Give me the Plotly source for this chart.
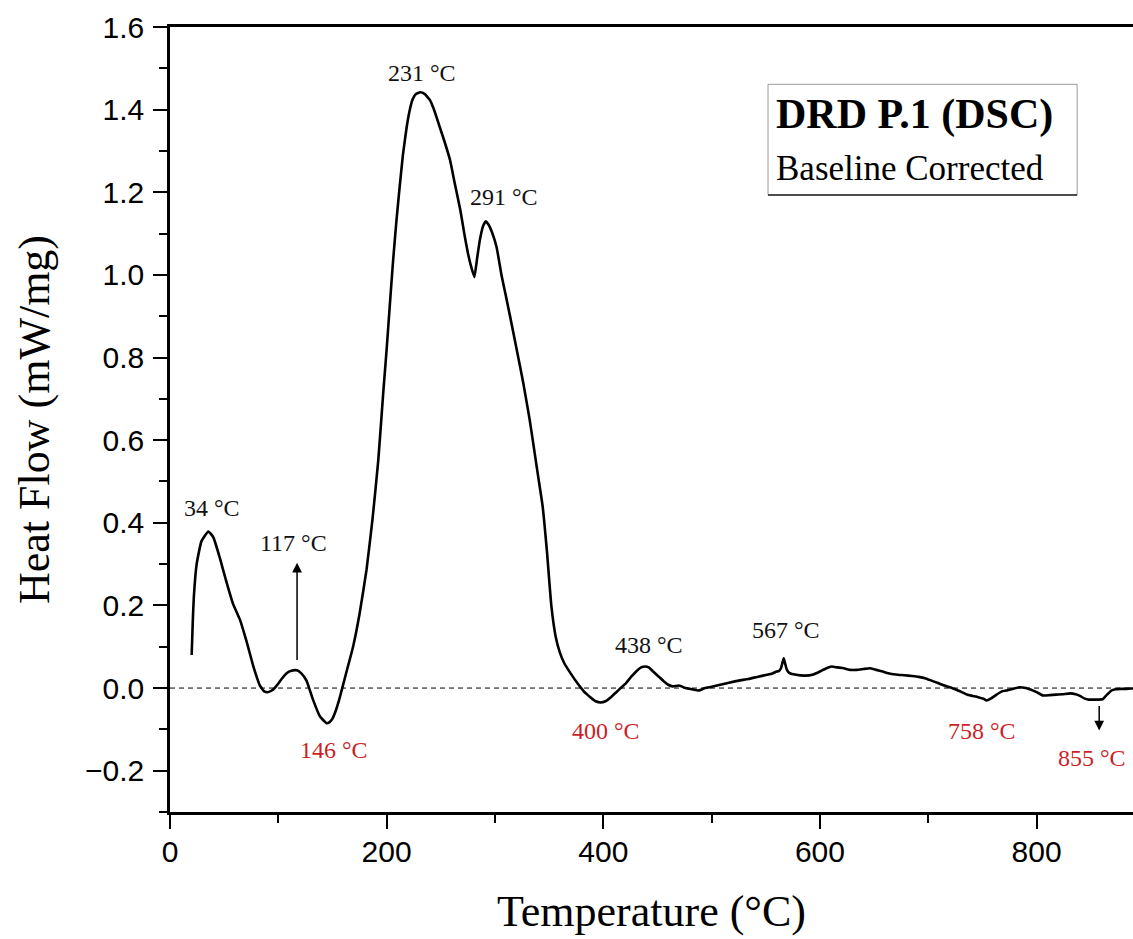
import plotly.graph_objects as go

# ---- data ----
temperature = [20, 21, 22, 24.6, 29, 35.4, 40, 46, 52.3, 58, 64.6, 71, 77, 83, 87, 90, 94, 98.5,
               103, 107.7, 112, 117, 121, 126, 132, 138.5, 144.6, 147, 150, 153, 156, 159, 163, 169,
               175, 181.4, 187, 192.3, 197, 200, 203, 206, 209, 212, 215, 218.5, 221, 224, 227,
               231, 235, 240, 244, 249, 254, 258.5, 263, 268, 272, 275, 278, 281, 283.5, 286,
               289, 291.5, 294, 297, 301.5, 306, 310, 314, 320, 326, 332, 336, 340, 344, 348,
               352, 356, 360, 364, 370, 376, 382, 388, 393, 397.6, 402, 407, 412, 416, 421, 426,
               431, 435, 438.6, 442, 446, 451, 456, 460, 464, 470, 476, 482, 488, 494, 500, 508,
               516, 525, 534, 542, 551, 556, 560, 562, 564, 565.5, 566.6, 568, 569.5, 572, 578,
               586, 594, 600, 606, 611, 616, 622, 628, 634, 640, 646, 652, 658, 663, 670, 678,
               685, 691, 697, 703, 709, 715, 720, 726, 731, 736, 741, 746, 751, 754, 758, 763,
               768, 772, 778, 784, 790, 795, 800, 806, 812, 818, 824, 831, 836, 840, 844, 848,
               853, 857, 861, 865, 869, 873, 877, 882, 887, 889]
heat_flow = [0.08, 0.16, 0.22, 0.30, 0.355, 0.379, 0.365, 0.315, 0.255, 0.205, 0.165, 0.11, 0.052,
             0.006, -0.008, -0.01, -0.006, 0.006, 0.022, 0.036, 0.042, 0.043, 0.036, 0.018,
             -0.028, -0.069, -0.085, -0.083, -0.074, -0.055, -0.03, 0.0, 0.04, 0.10, 0.18, 0.286,
             0.41, 0.552, 0.72, 0.82, 0.93, 1.036, 1.13, 1.213, 1.29, 1.358, 1.395, 1.425, 1.438,
             1.442, 1.438, 1.423, 1.398, 1.358, 1.318, 1.278, 1.22, 1.157, 1.095, 1.053, 1.02,
             0.995, 1.04, 1.084, 1.118, 1.13, 1.122, 1.105, 1.067, 1.0, 0.95, 0.899, 0.82,
             0.74, 0.65, 0.58, 0.51, 0.44, 0.33, 0.2, 0.125, 0.085, 0.06, 0.035, 0.012,
             -0.008, -0.022, -0.032, -0.035, -0.032, -0.022, -0.01, 0.0, 0.012, 0.028, 0.042,
             0.05, 0.052, 0.05, 0.04, 0.028, 0.016, 0.008, 0.004, 0.006, 0.0, -0.003, -0.006,
             0.0, 0.003, 0.008, 0.013, 0.018, 0.022, 0.027, 0.032, 0.035, 0.04, 0.041, 0.048,
             0.062, 0.072, 0.058, 0.044, 0.036, 0.032, 0.03, 0.033, 0.04, 0.048, 0.052, 0.05,
             0.048, 0.044, 0.044, 0.046, 0.048, 0.044, 0.04, 0.036, 0.033, 0.031, 0.029, 0.027,
             0.024, 0.018, 0.012, 0.006, 0.002, -0.004, -0.01, -0.016, -0.019, -0.022, -0.026,
             -0.03, -0.025, -0.016, -0.008, -0.006, -0.002, 0.002, 0.0, -0.004, -0.01, -0.018,
             -0.017, -0.016, -0.015, -0.013, -0.015, -0.019, -0.025, -0.028, -0.028, -0.028,
             -0.027, -0.016, -0.006, -0.003, -0.002, -0.002, -0.001, -0.001]

# peak labels
peak_labels = ["34 °C", "117 °C", "231 °C", "291 °C", "438 °C", "567 °C"]
peak_x = [38.8, 113.6, 232.7, 308.4, 442.3, 568.8]
peak_y = [0.436, 0.351, 1.488, 1.189, 0.105, 0.141]
trough_labels = ["146 °C", "400 °C", "758 °C", "855 °C"]
trough_x = [151.4, 402.6, 749.8, 851.3]
trough_y = [-0.149, -0.105, -0.103, -0.169]

# arrows (head, tail)
arrow_x = [117.3, 857.8]
arrow_head_y = [0.303, -0.1025]
arrow_tail_y = [0.064, -0.04]

x_range = [0, 889]
y_range = [-0.3, 1.6]

SERIF = "Liberation Serif, Times New Roman, serif"
SANS = "Liberation Sans, Arial, sans-serif"
RED = "#cc1f26"

fig = go.Figure()
fig.add_trace(go.Scatter(x=temperature, y=heat_flow, mode="lines",
                         line=dict(color="black", width=2.6, shape="spline", smoothing=0.4),
                         showlegend=False, hoverinfo="skip"))

# dashed zero line
fig.add_shape(type="line", xref="paper", yref="y", x0=0, x1=1, y0=0, y1=0,
              line=dict(color="black", width=1, dash="5px,4px"), layer="below")

for t, x, y in zip(peak_labels, peak_x, peak_y):
    fig.add_annotation(x=x, y=y, text=t, showarrow=False,
                       font=dict(family=SERIF, size=24, color="#111111"))
for t, x, y in zip(trough_labels, trough_x, trough_y):
    fig.add_annotation(x=x, y=y, text=t, showarrow=False,
                       font=dict(family=SERIF, size=24, color=RED))
for x, yh, yt in zip(arrow_x, arrow_head_y, arrow_tail_y):
    fig.add_annotation(x=x, y=yh, ax=x, ay=yt, axref="x", ayref="y", text="",
                       showarrow=True, arrowhead=2, arrowsize=1.3, arrowwidth=1.5,
                       arrowcolor="black", standoff=0, startstandoff=0)

# label box
fig.add_shape(type="rect", xref="paper", yref="paper", x0=0.621, x1=0.942, y0=0.786, y1=0.927,
              line=dict(color="#9a9a9a", width=1), fillcolor="white", layer="below")
fig.add_shape(type="line", xref="paper", yref="paper", x0=0.621, x1=0.942, y0=0.786, y1=0.786,
              line=dict(color="#222222", width=1.5))
fig.add_annotation(xref="paper", yref="paper", x=0.627, y=0.889, xanchor="left", yanchor="middle",
                   text="<b>DRD P.1 (DSC)</b>", showarrow=False,
                   font=dict(family=SERIF, size=42, color="black"))
fig.add_annotation(xref="paper", yref="paper", x=0.627, y=0.820, xanchor="left", yanchor="middle",
                   text="Baseline Corrected", showarrow=False,
                   font=dict(family=SERIF, size=35, color="black"))

fig.update_layout(
    width=1133, height=939,
    margin=dict(l=170, r=0, t=27, b=127),
    paper_bgcolor="white", plot_bgcolor="white",
    showlegend=False,
)
fig.update_xaxes(
    range=x_range, tick0=0, dtick=200, ticks="outside", ticklen=14, tickwidth=2.2,
    tickcolor="black", showline=True, linewidth=2.6, linecolor="black", mirror=True,
    showgrid=False, zeroline=False, ticklabelstandoff=-3,
    tickfont=dict(family=SANS, size=30, color="black"),
    minor=dict(ticks="outside", ticklen=8, tickwidth=2.2, tickcolor="black", dtick=100, tick0=0,
               showgrid=False),
    title=dict(text="Temperature (°C)", font=dict(family=SERIF, size=44, color="black"), standoff=29),
)
fig.update_yaxes(
    range=y_range, tick0=0, dtick=0.2, tickformat=".1f", ticks="outside", ticklen=14,
    tickwidth=2.2, tickcolor="black", showline=True, linewidth=2.6, linecolor="black",
    mirror=False, showgrid=False, zeroline=False, ticklabelstandoff=3,
    tickfont=dict(family=SANS, size=30, color="black"),
    minor=dict(ticks="outside", ticklen=8, tickwidth=2.2, tickcolor="black", dtick=0.1,
               tick0=0, showgrid=False),
    title=dict(text="Heat Flow (mW/mg)", font=dict(family=SERIF, size=44, color="black"), standoff=22),
)

fig.write_html("out.html", config={"displayModeBar": False},
               post_script="document.body.style.margin='0';document.body.style.overflow='hidden';")
